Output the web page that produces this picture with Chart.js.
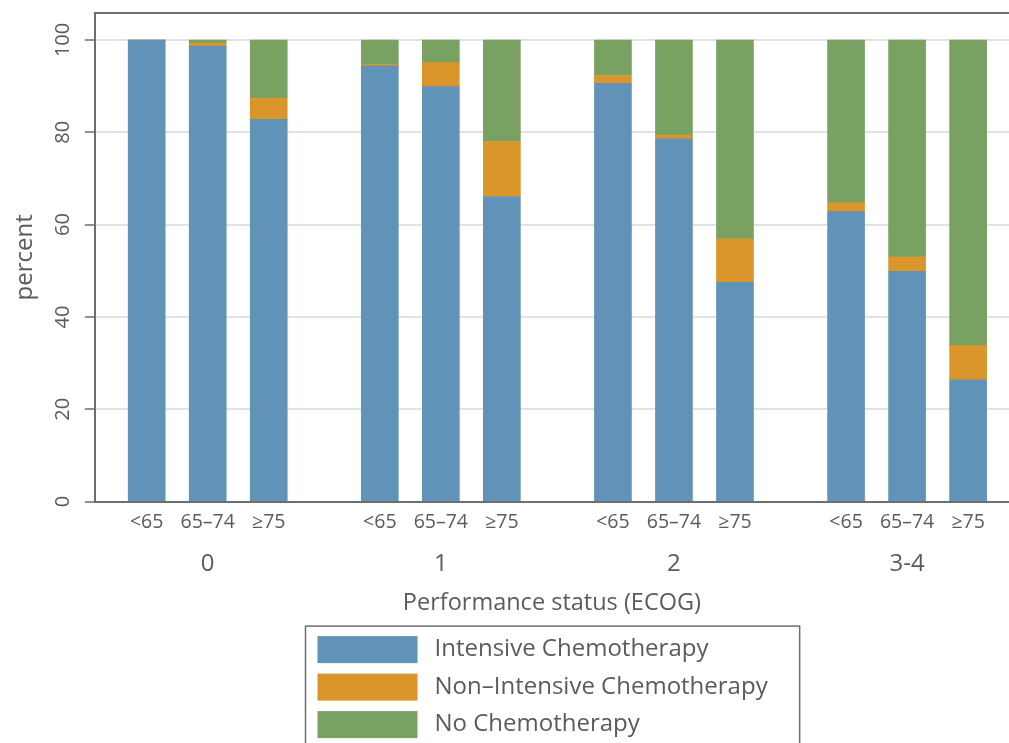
<!DOCTYPE html>
<html>
<head>
<meta charset="utf-8">
<script src="https://cdn.jsdelivr.net/npm/chart.js@4/dist/chart.umd.min.js"></script>
<style>
html, body { margin: 0; padding: 0; background: #fff; }
#wrap { width: 1009px; height: 743px; position: relative; }
</style>
</head>
<body>
<div id="wrap"><canvas id="chart"></canvas></div>
<script>
var GROUPS = ['0', '1', '2', '3-4'];
var AGES = ['<65', '65–74', '≥75'];
var SERIES = ['Intensive Chemotherapy', 'Non–Intensive Chemotherapy', 'No Chemotherapy'];
// percent per bar, group by group, age band within group
var INTENSIVE = [100, 98.7, 82.8, 94.4, 89.9, 66.1, 90.6, 78.6, 47.5, 62.8, 49.9, 26.4];
var NON_INTENSIVE = [0, 0.6, 4.6, 0.3, 5.2, 11.9, 1.7, 0.8, 9.4, 1.9, 3.1, 7.4];
var NO_CHEMO = [0, 0.7, 12.6, 5.3, 4.9, 22.0, 7.7, 20.6, 43.1, 35.3, 47.0, 66.2];
var Y_TICKS = [0, 20, 40, 60, 80, 100];
var COLORS = ['#6192b8', '#db962b', '#79a262'];

var TEXT = '#5b5b5b';
var AXIS = '#6e6e6e';
var FONT = '"Open Sans", sans-serif';
var GROUP_GAP = 0.82;
var X_MIN = -0.85, X_MAX = 14.13;

function barPos(i) {
  var g = Math.floor(i / AGES.length), j = i % AGES.length;
  return g * (AGES.length + GROUP_GAP) + j;
}
function groupPos(g) {
  return g * (AGES.length + GROUP_GAP) + (AGES.length - 1) / 2;
}
function toPoints(arr) {
  return arr.map(function(v, i) { return { x: barPos(i), y: v }; });
}
// stop chart.js reserving room for labels hanging past the axis ends
function noEdgePadding(scale) {
  scale.paddingTop = 0;
  scale.paddingBottom = 0;
  scale.paddingLeft = 0;
  scale.paddingRight = 0;
}

var frameAndLegend = {
  id: 'frameAndLegend',
  afterDraw: function(chart) {
    var ctx = chart.ctx, a = chart.chartArea;
    ctx.save();
    // top frame line
    ctx.strokeStyle = AXIS;
    ctx.lineWidth = 2;
    ctx.beginPath();
    ctx.moveTo(a.left - 1, a.top);
    ctx.lineTo(a.right, a.top);
    ctx.stroke();

    // boxed legend, one entry per row
    ctx.font = '24px ' + FONT;
    var w = 0;
    chart.data.datasets.forEach(function(ds) { w = Math.max(w, ctx.measureText(ds.label).width); });
    var bw = 12 + 100 + 17 + w + 32;
    var left = Math.round((a.left + a.right) / 2 - bw / 2) + 0.5;
    var top = a.bottom + 124.5;
    ctx.strokeStyle = AXIS;
    ctx.lineWidth = 1.5;
    ctx.strokeRect(left, top, bw, chart.height - top + 10);
    ctx.textBaseline = 'middle';
    ctx.textAlign = 'left';
    chart.data.datasets.forEach(function(ds, i) {
      var cy = top + 23.5 + i * 37.5;
      ctx.fillStyle = ds.backgroundColor;
      ctx.fillRect(left + 12, cy - 13.5, 100, 27);
      ctx.fillStyle = TEXT;
      ctx.fillText(ds.label, left + 12 + 100 + 17, cy);
    });
    ctx.restore();
  }
};

new Chart(document.getElementById('chart'), {
  type: 'bar',
  data: {
    datasets: [
      { label: SERIES[0], data: toPoints(INTENSIVE), backgroundColor: COLORS[0] },
      { label: SERIES[1], data: toPoints(NON_INTENSIVE), backgroundColor: COLORS[1] },
      { label: SERIES[2], data: toPoints(NO_CHEMO), backgroundColor: COLORS[2] }
    ]
  },
  options: {
    responsive: true,
    maintainAspectRatio: false,
    animation: false,
    barThickness: 37,
    layout: { padding: { left: 11, right: 0, top: 13, bottom: 126 } },
    plugins: { legend: { display: false }, tooltip: { enabled: false } },
    scales: {
      x: {
        type: 'linear',
        stacked: true,
        offset: false,
        min: X_MIN,
        max: X_MAX,
        weight: 1,
        afterFit: noEdgePadding,
        grid: { display: false, drawTicks: false, offset: false },
        border: { display: true, color: AXIS, width: 2 },
        afterBuildTicks: function(scale) {
          scale.ticks = INTENSIVE.map(function(v, i) { return { value: barPos(i) }; });
        },
        ticks: {
          autoSkip: false,
          maxRotation: 0,
          padding: 9.5,
          color: TEXT,
          font: { family: FONT, size: 19.5 },
          callback: function(value, index) { return AGES[index % AGES.length]; }
        }
      },
      x2: {
        type: 'linear',
        position: 'bottom',
        offset: false,
        min: X_MIN,
        max: X_MAX,
        weight: 2,
        afterFit: noEdgePadding,
        grid: { display: false, drawTicks: false },
        border: { display: false },
        afterBuildTicks: function(scale) {
          scale.ticks = GROUPS.map(function(g, i) { return { value: groupPos(i) }; });
        },
        ticks: {
          autoSkip: false,
          maxRotation: 0,
          padding: 5.5,
          color: TEXT,
          font: { family: FONT, size: 24 },
          callback: function(value, index) { return GROUPS[index]; }
        },
        title: {
          display: true,
          text: 'Performance status (ECOG)',
          color: TEXT,
          font: { family: FONT, size: 23.5 },
          padding: { top: 5, bottom: 0 }
        }
      },
      y: {
        stacked: true,
        min: 0,
        max: 105.84,
        afterFit: noEdgePadding,
        afterBuildTicks: function(scale) {
          scale.ticks = Y_TICKS.map(function(v) { return { value: v }; });
        },
        grid: { color: '#e2e2e2', lineWidth: 2, tickColor: AXIS, tickLength: 10, tickWidth: 1.5 },
        border: { display: true, color: AXIS, width: 2 },
        ticks: {
          minRotation: 90,
          maxRotation: 90,
          crossAlign: 'center',
          padding: 4,
          color: TEXT,
          font: { family: FONT, size: 20 }
        },
        title: {
          display: true,
          text: 'percent',
          color: TEXT,
          font: { family: FONT, size: 24 },
          padding: { top: 0, bottom: 13 }
        }
      }
    }
  },
  plugins: [frameAndLegend]
});
</script>
</body>
</html>
